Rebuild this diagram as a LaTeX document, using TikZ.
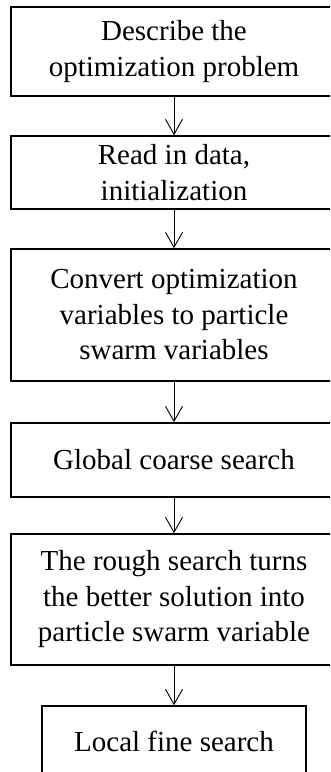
\documentclass[tikz,border=0pt]{standalone}
\usepackage{fontspec}
\setmainfont{Liberation Serif}
\usetikzlibrary{arrows.meta}
\begin{document}
\begin{tikzpicture}[x=1pt,y=1pt,
  stepbox/.style={draw=black, line width=1.6pt, fill=white, align=center, inner sep=0pt,
    font=\fontsize{29}{35.5}\selectfont},
  flow/.style={line width=0.9pt, -{Straight Barb[length=15pt,width=17pt,line width=0.9pt]}}]
\useasboundingbox (0,0) rectangle (330,-772);
\clip (0,0) rectangle (330,-772);
\fill[white] (0,0) rectangle (330,-772);
\node[stepbox, minimum width=326pt, minimum height=89pt] (b1) at (174,-51.5) {Describe the\\optimization problem};
\node[stepbox, minimum width=326pt, minimum height=73pt] (b2) at (174,-172.5) {Read in data,\\initialization};
\node[stepbox, minimum width=326pt, minimum height=132pt] (b3) at (174,-315) {Convert optimization\\variables to particle\\swarm variables};
\node[stepbox, minimum width=326pt, minimum height=74pt] (b4) at (174,-460) {Global coarse search};
\node[stepbox, minimum width=326pt, minimum height=131pt] (b5) at (174,-599.5) {The rough search turns\\the better solution into\\particle swarm variable};
\node[stepbox, minimum width=264pt, minimum height=70pt] (b6) at (174,-741) {Local fine search};
\draw[flow] (b1.south) -- (b2.north);
\draw[flow] (b2.south) -- (b3.north);
\draw[flow] (b3.south) -- (b4.north);
\draw[flow] (b4.south) -- (b5.north);
\draw[flow] (b5.south) -- (b6.north);
\end{tikzpicture}
\end{document}
